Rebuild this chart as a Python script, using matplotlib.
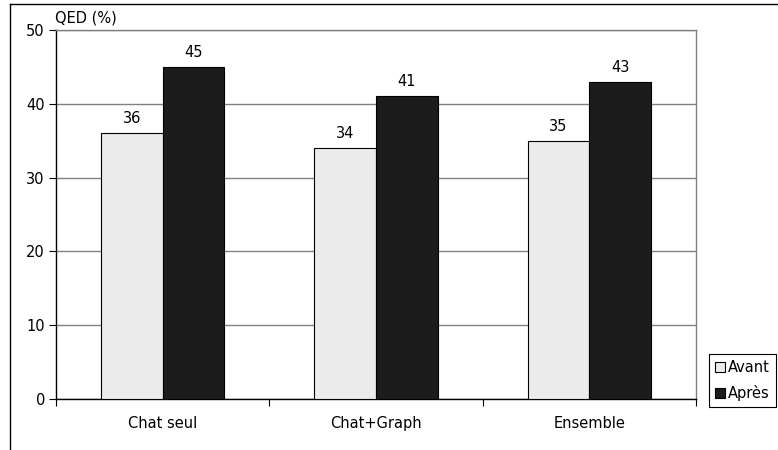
import numpy as np
import matplotlib
matplotlib.use("Agg")
import matplotlib.pyplot as plt
from matplotlib.lines import Line2D

categories = ["Chat seul", "Chat+Graph", "Ensemble"]
avant = [36, 34, 35]
apres = [45, 41, 43]
series_names = ["Avant", "Après"]
y_ticks = [0, 10, 20, 30, 40, 50]

plt.rcParams["font.family"] = ["DejaVu Sans"]
plt.rcParams["font.size"] = 10.5

fig = plt.figure(figsize=(7.78, 4.5), dpi=100)
ax = fig.add_axes([56 / 778, 1 - 399 / 450, (696 - 56) / 778, (399 - 30) / 450])

x = np.arange(len(categories))
w = 0.289
b1 = ax.bar(x - w / 2, avant, w, color="#ebebeb", edgecolor="black", linewidth=0.8, zorder=3)
b2 = ax.bar(x + w / 2, apres, w, color="#1c1c1c", edgecolor="black", linewidth=0.8, zorder=3)

for bars, vals in ((b1, avant), (b2, apres)):
    for r, v in zip(bars, vals):
        ax.annotate(str(v), (r.get_x() + r.get_width() / 2, v), xytext=(0, 5),
                    textcoords="offset points", ha="center", va="bottom")

ax.set_xlim(-0.5, len(categories) - 0.5)
ax.set_ylim(0, 50)
ax.set_yticks(y_ticks)
ax.yaxis.grid(True, color="#808080", linewidth=1.0, zorder=0)
ax.set_axisbelow(True)

# category boundaries carry the tick marks, labels sit at the centres
ax.set_xticks(np.arange(len(categories) + 1) - 0.5)
ax.set_xticklabels([])
ax.set_xticks(x, minor=True)
ax.set_xticklabels(categories, minor=True)
ax.tick_params(axis="x", which="minor", length=0, pad=12)
ax.tick_params(axis="x", which="major", length=5, width=0.8, direction="out")
ax.tick_params(axis="y", length=5, width=0.8, direction="out", pad=3)

ax.spines["left"].set_color("black")
ax.spines["bottom"].set_color("black")
ax.spines["top"].set_color("#808080")
ax.spines["right"].set_color("#808080")
for s in ax.spines.values():
    s.set_linewidth(1.0)

fig.text(55 / 778, 1 - 18 / 450, "QED (%)", ha="left", va="center")

handles = [plt.Rectangle((0, 0), 1, 1, facecolor="#ebebeb", edgecolor="black", linewidth=0.8),
           plt.Rectangle((0, 0), 1, 1, facecolor="#1c1c1c", edgecolor="black", linewidth=0.8)]
leg = fig.legend(handles, series_names, loc="upper left",
                 bbox_to_anchor=(709 / 778, 1 - 354 / 450),
                 fancybox=False, framealpha=1, edgecolor="black",
                 handlelength=0.7, handleheight=0.7, handletextpad=0.2,
                 borderpad=0.4, labelspacing=0.7, borderaxespad=0)
leg.get_frame().set_linewidth(0.8)

# outer chart border (left and top edges visible)
fig.add_artist(Line2D([10 / 778, 10 / 778], [0, 1 - 4 / 450], transform=fig.transFigure,
                      color="black", linewidth=1.0))
fig.add_artist(Line2D([10 / 778, 1], [1 - 4 / 450, 1 - 4 / 450], transform=fig.transFigure,
                      color="black", linewidth=1.0))

fig.savefig("out.png", dpi=100)
